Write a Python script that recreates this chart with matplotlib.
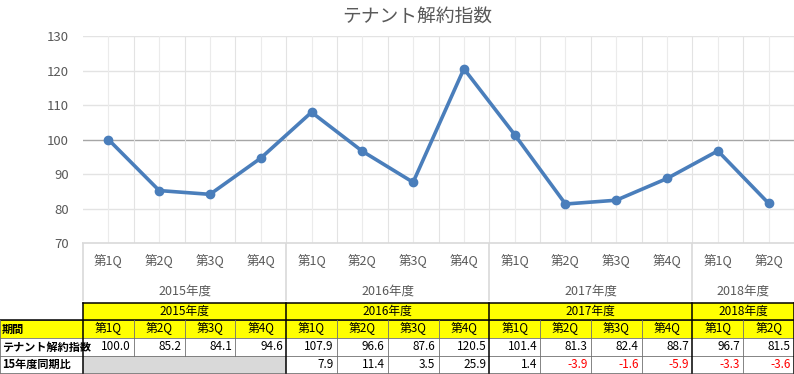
import matplotlib.pyplot as plt
from matplotlib.transforms import blended_transform_factory

plt.rcParams['font.family'] = ['Noto Sans CJK JP', 'DejaVu Sans']

# data
years = ['2015年度', '2016年度', '2017年度', '2018年度']
year_counts = [4, 4, 4, 2]
quarters = ['第1Q', '第2Q', '第3Q', '第4Q',
            '第1Q', '第2Q', '第3Q', '第4Q',
            '第1Q', '第2Q', '第3Q', '第4Q',
            '第1Q', '第2Q']
index_vals = [100.0, 85.2, 84.1, 94.6, 107.9, 96.6, 87.6, 120.5,
              101.4, 81.3, 82.4, 88.7, 96.7, 81.5]
yoy_vals = [None, None, None, None, 7.9, 11.4, 3.5, 25.9,
            1.4, -3.9, -1.6, -5.9, -3.3, -3.6]
row_labels = ['期間', 'テナント解約指数', '15年度同期比']

W, H = 794, 374
fig = plt.figure(figsize=(W / 100, H / 100), dpi=100)

# pixel layout
left, right = 83, 794
top, bottom = 36, 243
n = len(quarters)
cw = (right - left) / n

# full-figure pixel axes for table and category labels
tax = fig.add_axes([0, 0, 1, 1])
tax.set_xlim(0, W)
tax.set_ylim(H, 0)
tax.axis('off')

ax = fig.add_axes([left / W, 1 - bottom / H, (right - left) / W, (bottom - top) / H])
x = list(range(n))
ax.plot(x, index_vals, color='#4A7EBB', lw=2.6, marker='o', ms=6, zorder=3)
ax.set_xlim(-0.5, n - 0.5)
ax.set_ylim(70, 130)
ax.set_yticks(range(70, 131, 10))
ax.grid(False)
for y in range(80, 131, 10):
    ax.axhline(y, color='#A6A6A6' if y == 100 else '#E3E3E3', lw=1.0, zorder=1)
for k in range(n):
    ax.axvline(k, color='#EBEBEB', lw=0.8, zorder=1)
    ax.axvline(k + 0.5, color='#E3E3E3', lw=0.8, zorder=1)
for s in ['top', 'right', 'left']:
    ax.spines[s].set_visible(False)
ax.spines['bottom'].set_color('#D9D9D9')
ax.spines['bottom'].set_linewidth(1.2)
ax.tick_params(axis='y', length=0, labelsize=9.5, labelcolor='#595959', pad=10)
ax.set_xticks(x)
ax.set_xticklabels(quarters, fontsize=9, color='#595959')
ax.tick_params(axis='x', length=0, pad=8)

# year labels and separators below the axis
trans = blended_transform_factory(ax.transData, ax.transAxes)
start = 0
bounds = [0]
for yr, c in zip(years, year_counts):
    ax.text(start + (c - 1) / 2, -0.23, yr, transform=trans, ha='center', va='center',
            fontsize=9, color='#595959', clip_on=False)
    start += c
    bounds.append(start)
for b in bounds[:-1]:
    xp = left + b * cw
    tax.plot([xp, xp], [bottom, 300], color='#D9D9D9', lw=1.2)

fig.text(417 / W, 1 - 17 / H, 'テナント解約指数', ha='center', va='center',
         fontsize=13.5, color='#595959')

# table
ry = [303, 320, 338, 356, 373]
cx = [left + k * cw for k in range(n + 1)]
tax.fill_between([left, right], ry[0], ry[1], color='#FFFF00', lw=0)
tax.fill_between([0, right], ry[1], ry[2], color='#FFFF00', lw=0)
tax.fill_between([left, cx[4]], ry[3], ry[4], color='#D9D9D9', lw=0)

thin = dict(color='#707070', lw=0.6)
thick = dict(color='black', lw=1.1)
# horizontal lines
tax.plot([left, right], [ry[0]] * 2, **thick)
for r in ry[1:]:
    tax.plot([0, right], [r, r], **thin)
tax.plot([0, right], [ry[1]] * 2, **thick)
# vertical lines
tax.plot([0, 0], [ry[1], ry[4]], **thin)
tax.plot([left, left], [ry[0], ry[4]], **thick)
for k in range(1, n):
    if k in bounds:
        tax.plot([cx[k], cx[k]], [ry[0], ry[4]], **thick)
    else:
        y0 = ry[1]
        y1 = ry[3] if k < 4 else ry[4]
        tax.plot([cx[k], cx[k]], [y0, y1], **thin)
tax.plot([right - 0.5] * 2, [ry[0], ry[4]], **thick)

fs = 8.5
for i, (yr, c) in enumerate(zip(years, year_counts)):
    xm = (cx[bounds[i]] + cx[bounds[i + 1]]) / 2
    tax.text(xm, (ry[0] + ry[1]) / 2, yr, ha='center', va='center', fontsize=fs)
for k, q in enumerate(quarters):
    tax.text((cx[k] + cx[k + 1]) / 2, (ry[1] + ry[2]) / 2, q, ha='center', va='center', fontsize=fs)
    tax.text(cx[k + 1] - 3, (ry[2] + ry[3]) / 2, f'{index_vals[k]:.1f}', ha='right', va='center',
             fontsize=fs)
    v = yoy_vals[k]
    if v is not None:
        tax.text(cx[k + 1] - 3, (ry[3] + ry[4]) / 2, f'{v:.1f}', ha='right', va='center',
                 fontsize=fs, color='red' if v < 0 else 'black')
for j, lab in enumerate(row_labels):
    tax.text(2, (ry[j + 1] + ry[j + 2]) / 2, lab, ha='left', va='center', fontsize=8,
             fontweight='bold')

fig.savefig('out.png', dpi=100)
